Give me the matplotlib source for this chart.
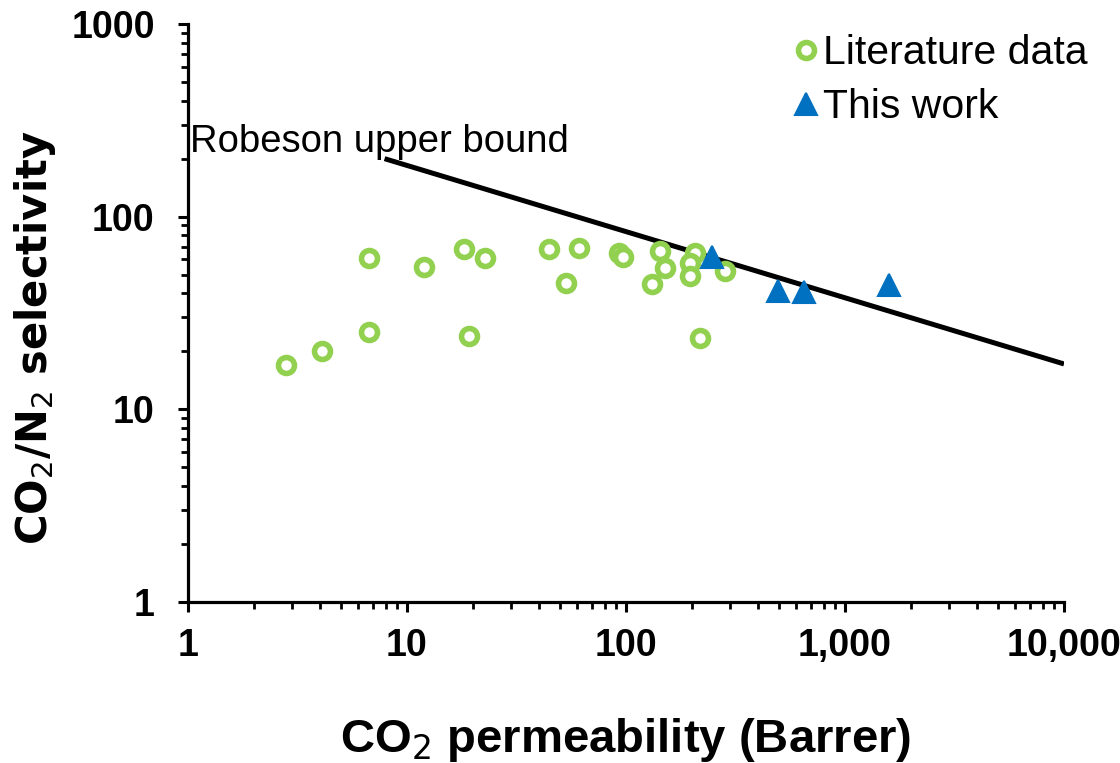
import matplotlib
matplotlib.use("Agg")
import matplotlib.pyplot as plt
from matplotlib.ticker import FixedLocator, LogLocator, NullFormatter

# ---- data ----
lit_x = [2.8, 4.1, 6.7, 6.7, 11.9, 18.3, 22.7, 19.2, 44.4, 53.2, 61.2,
         93, 97, 143, 151, 131, 207, 196, 195, 283, 218]
lit_y = [17.0, 20.0, 25.1, 61, 55, 68, 61, 24.1, 68, 45, 69,
         65, 62, 66, 54, 44.5, 65, 57.5, 49, 52, 23.4]

this_x = [246, 496, 652, 1585]
this_y = [62, 40.9, 40.5, 44.2]

robeson_x = [7.9, 10000]
robeson_y = [200, 17.2]

x_ticks = [1, 10, 100, 1000, 10000]
x_tick_labels = ["1", "10", "100", "1,000", "10,000"]
y_ticks = [1, 10, 100, 1000]
y_tick_labels = ["1", "10", "100", "1000"]

plt.rcParams['font.family'] = ['Liberation Sans', 'DejaVu Sans']

fig = plt.figure(figsize=(11.2, 7.63), dpi=100)
ax = fig.add_axes([188/1120, 1-602/763, (1064-188)/1120, (602-24)/763])

ax.plot(robeson_x, robeson_y, color='black', lw=3.6, solid_capstyle='butt', zorder=2)
ax.plot(lit_x, lit_y, ls='none', marker='o', ms=11.5, mfc='white', mec='#92D050',
        mew=4.0, label='Literature data', zorder=3)
ax.plot(this_x, this_y, ls='none', marker='^', ms=16.5, mfc='#0070C0', mec='#0070C0',
        mew=1.5, label='This work', zorder=4)

ax.set_xscale('log')
ax.set_yscale('log')
ax.set_xlim(1, 10000)
ax.set_ylim(1, 1000)

ax.xaxis.set_major_locator(FixedLocator(x_ticks))
ax.yaxis.set_major_locator(FixedLocator(y_ticks))
ax.set_xticklabels(x_tick_labels)
ax.set_yticklabels(y_tick_labels)
ax.xaxis.set_minor_locator(LogLocator(base=10, subs=range(2, 10)))
ax.yaxis.set_minor_locator(LogLocator(base=10, subs=range(2, 10)))
ax.xaxis.set_minor_formatter(NullFormatter())
ax.yaxis.set_minor_formatter(NullFormatter())

for s in ['top', 'right']:
    ax.spines[s].set_visible(False)
for s in ['left', 'bottom']:
    ax.spines[s].set_linewidth(2.3)

ax.tick_params(which='major', direction='out', length=7, width=2.2, labelsize=27)
ax.tick_params(axis='y', which='major', pad=17)
ax.tick_params(axis='x', which='major', pad=12)
ax.tick_params(which='minor', direction='out', length=5, width=2.0)
for lab in ax.get_xticklabels() + ax.get_yticklabels():
    lab.set_fontweight('bold')

ax.set_xlabel(r'CO$_2$ permeability (Barrer)', fontsize=34, fontweight='bold', labelpad=37)
ax.set_ylabel(r'CO$_2$/N$_2$ selectivity', fontsize=30, fontweight='bold',
              family=['DejaVu Sans'])
ax.yaxis.set_label_coords(-0.148, 0.457)

ax.text(1.02, 245, 'Robeson upper bound', fontsize=27.5, va='center', ha='left')

leg = fig.legend(loc='upper left', bbox_to_anchor=(786/1120, 1-34/763), frameon=False,
                 fontsize=29.5, handletextpad=-0.1, handlelength=1.0, labelspacing=0.4,
                 borderaxespad=0, borderpad=0, handles=ax.get_lines()[1:])

fig.savefig('out.png', dpi=100)
